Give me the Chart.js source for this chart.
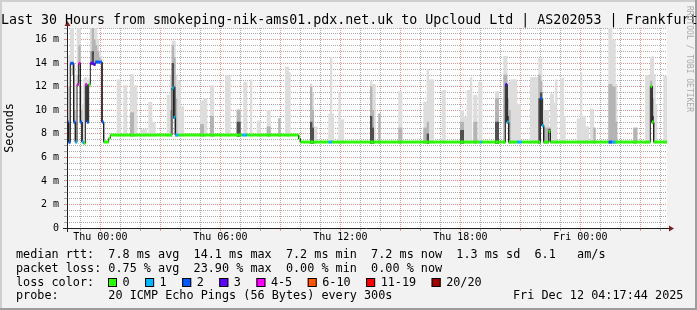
<!DOCTYPE html>
<html>
<head>
<meta charset="utf-8">
<script src="https://cdn.jsdelivr.net/npm/chart.js@4/dist/chart.umd.min.js"></script>
<style>
  html, body { margin: 0; padding: 0; background: #f2f2f2; }
  canvas { display: block; }
</style>
</head>
<body>
<canvas id="chart" width="697" height="310"></canvas>
<script>
// loss buckets (pings lost out of 20)
const lossLabels = ['0', '1', '2', '3', '4-5', '6-10', '11-19', '20/20'];
const lossColors = ['#26ff00', '#00b8ff', '#0059ff', '#5e00ff', '#ff00ff', '#ff5500', '#ff0000', '#a10000'];

// x axis: minutes since Thu 00:00, one sample every 5 minutes
const startMin = -100;
const endMin = 1700;
const stepMin = 5;
const tickHours = [0, 6, 12, 18, 24];
const tickLabels = ['Thu 00:00', 'Thu 06:00', 'Thu 12:00', 'Thu 18:00', 'Fri 00:00'];
const yMax = 17;

// median rtt runs: [start minute, ms, loss bucket], each lasts until the next run
const medianRuns = [
  [-100, 9.0, 2], [-95, 7.3, 2], [-90, 14.0, 2], [-80, 9.0, 2], [-75, 7.3, 1],
  [-70, 12.2, 4], [-65, 14.0, 4], [-60, 9.0, 2], [-55, 7.3, 1], [-50, 7.2, 0],
  [-45, 12.2, 4], [-40, 9.0, 2], [-35, 12.2, 0], [-30, 14.0, 3], [-20, 13.9, 3],
  [-15, 14.1, 2], [5, 9.0, 2], [10, 7.3, 0], [25, 7.6, 0], [30, 7.9, 0],
  [215, 11.9, 1], [220, 9.4, 1], [225, 7.9, 1], [235, 7.9, 0],
  [425, 7.9, 1], [440, 7.9, 0],
  [595, 7.6, 0], [600, 7.3, 0],
  [685, 7.3, 1], [695, 7.3, 0],
  [1140, 7.3, 1], [1145, 7.3, 0],
  [1215, 12.2, 3], [1220, 9.0, 1], [1225, 7.3, 0],
  [1250, 7.3, 1], [1265, 7.3, 0],
  [1320, 11.0, 2], [1325, 8.7, 1], [1330, 7.3, 0],
  [1345, 8.2, 0], [1350, 7.3, 0],
  [1525, 7.3, 2], [1535, 7.3, 1], [1545, 7.3, 0],
  [1650, 12.05, 0], [1655, 9.0, 0], [1660, 7.3, 0]
];

// smoke: [first minute, last minute, outer top ms, middle top ms, core top ms] (0 = none)
const smoke = [
  [-100, -100, 9.5, 0, 0], [-95, -95, 14.7, 12.0, 0], [-90, -90, 17, 14.0, 0],
  [-85, -85, 17, 13.0, 0], [-80, -80, 13.0, 10.0, 0], [-75, -75, 9.0, 0, 0],
  [-70, -70, 17, 13.0, 0], [-65, -65, 17, 15.5, 0], [-60, -60, 12.0, 10.0, 0],
  [-55, -55, 10.5, 0, 0], [-50, -50, 12.7, 0, 0], [-45, -45, 12.8, 12.2, 0],
  [-40, -40, 12.5, 11.0, 0], [-35, -35, 12.7, 12.0, 0], [-30, -30, 17, 15.0, 0],
  [-25, -25, 17, 17, 15.0], [-20, -20, 17, 16.0, 0], [-15, -15, 17, 15.5, 0],
  [-10, -10, 16.0, 15.0, 0], [-5, -5, 15.0, 14.5, 0], [0, 0, 14.6, 0, 0],
  [50, 55, 12.6, 0, 0], [70, 75, 12.1, 0, 0], [90, 95, 13.05, 9.8, 0],
  [100, 105, 12.1, 0, 0], [120, 135, 8.4, 0, 0], [145, 150, 10.7, 0, 0],
  [155, 160, 9.0, 0, 0], [200, 205, 11.3, 0, 0], [210, 210, 13.0, 10.0, 0],
  [215, 215, 15.9, 15.5, 14.0], [220, 220, 15.9, 14.5, 12.0], [225, 225, 13.0, 11.0, 0],
  [230, 235, 12.5, 0, 0], [240, 245, 10.3, 0, 0], [300, 305, 10.8, 8.8, 0],
  [310, 315, 11.0, 0, 0], [330, 335, 12.1, 9.5, 0], [375, 380, 12.96, 0, 0],
  [385, 385, 12.9, 0, 0], [410, 415, 10.1, 10.0, 9.0], [430, 435, 12.4, 0, 0],
  [450, 450, 12.6, 0, 0], [470, 475, 9.1, 0, 0], [500, 505, 10.0, 8.6, 0],
  [535, 535, 9.3, 9.3, 0], [555, 560, 13.67, 0, 0], [565, 565, 13.2, 0, 0],
  [630, 630, 12.25, 12.0, 9.0], [635, 635, 11.5, 10.0, 8.5], [640, 645, 8.6, 0, 0],
  [685, 685, 9.7, 0, 0], [690, 690, 14.5, 0, 0], [695, 695, 9.7, 0, 0],
  [715, 715, 11.5, 0, 0], [720, 725, 9.2, 0, 0], [810, 810, 12.5, 12.0, 9.5],
  [815, 815, 12.2, 10.0, 8.5], [820, 820, 12.2, 0, 0], [835, 835, 9.7, 9.7, 0],
  [895, 900, 11.6, 8.5, 0], [970, 975, 10.7, 8.5, 0], [980, 980, 13.5, 9.0, 8.0],
  [985, 995, 12.6, 0, 0], [1025, 1030, 11.7, 0, 0], [1080, 1085, 10.0, 9.0, 8.3],
  [1090, 1095, 9.4, 0, 0], [1100, 1105, 11.7, 0, 0], [1110, 1110, 12.8, 0, 0],
  [1120, 1125, 11.3, 9.0, 0], [1135, 1140, 12.4, 0, 0], [1185, 1190, 11.6, 11.0, 9.0],
  [1210, 1210, 14.6, 13.0, 0], [1215, 1215, 14.6, 13.0, 12.2], [1220, 1220, 12.4, 11.0, 9.5],
  [1225, 1225, 12.35, 10.0, 0], [1230, 1235, 12.6, 0, 0], [1240, 1245, 12.6, 0, 0],
  [1250, 1255, 10.5, 0, 0], [1290, 1295, 12.8, 0, 0], [1300, 1310, 12.8, 0, 0],
  [1315, 1315, 14.46, 13.0, 11.0], [1320, 1320, 14.4, 12.5, 11.5], [1325, 1325, 11.0, 9.0, 0],
  [1330, 1340, 10.0, 8.5, 0], [1345, 1345, 8.6, 8.5, 8.4], [1350, 1355, 11.4, 0, 0],
  [1360, 1360, 10.6, 0, 0], [1365, 1365, 12.6, 0, 0], [1380, 1385, 12.7, 0, 0],
  [1390, 1390, 9.5, 0, 0], [1430, 1435, 9.3, 0, 0], [1440, 1440, 13.2, 0, 0],
  [1445, 1450, 9.5, 0, 0], [1455, 1460, 8.6, 0, 0], [1470, 1475, 10.1, 0, 0],
  [1480, 1480, 8.5, 8.5, 0], [1525, 1530, 17, 12.2, 0], [1535, 1540, 16.0, 12.0, 0],
  [1545, 1545, 12.2, 9.0, 0], [1600, 1605, 8.5, 8.5, 0], [1635, 1640, 12.96, 0, 0],
  [1645, 1645, 12.9, 0, 0], [1650, 1650, 14.5, 12.5, 12.0], [1655, 1655, 14.6, 11.0, 9.5],
  [1660, 1660, 13.05, 0, 0], [1665, 1665, 10.5, 0, 0], [1690, 1695, 12.9, 0, 0]
];

const titleText = 'Last 30 Hours from smokeping-nik-ams01.pdx.net.uk to Upcloud Ltd | AS202053 | Frankfurt';
const statLines = [
  'median rtt:  7.8 ms avg  14.1 ms max  7.2 ms min  7.2 ms now  1.3 ms sd  6.1   am/s',
  'packet loss: 0.75 % avg  23.90 % max  0.00 % min  0.00 % now'
];
const probeText = 'probe:       20 ICMP Echo Pings (56 Bytes) every 300s';
const stampText = 'Fri Dec 12 04:17:44 2025';

const MONO = '"DejaVu Sans Mono", "Liberation Mono", monospace';
const gridMajor = 'rgba(222, 79, 79, 0.6)';
const gridMinor = 'rgba(143, 143, 143, 0.75)';

// build sample tables
const samples = [];
for (let m = startMin; m < endMin; m += stepMin) samples.push(m);

const medianAt = m => {
  let r = medianRuns[0];
  for (const run of medianRuns) if (run[0] <= m) r = run;
  return r;
};

const medPts = [];
const medLoss = [];
samples.forEach(m => {
  const run = medianAt(m);
  medPts.push({ x: m / 60, y: run[1] }, { x: (m + stepMin) / 60, y: run[1] });
  medLoss.push(run[2]);
});

const smokeLayer = col => samples.map(m => {
  const s = smoke.find(r => m >= r[0] && m <= r[1]);
  const top = s ? s[col] : 0;
  return { x: (m + stepMin / 2) / 60, y: top ? [medianAt(m)[1] - 0.1, top] : null };
});

const barOpts = {
  type: 'bar', grouped: false, barPercentage: 1, categoryPercentage: 1, borderWidth: 0
};

const frame = {
  id: 'frame',
  beforeDraw(chart) {
    const { ctx, chartArea: a } = chart;
    ctx.save();
    ctx.fillStyle = '#f2f2f2';
    ctx.fillRect(0, 0, 697, 310);
    ctx.fillStyle = '#cfcfcf';
    ctx.fillRect(0, 0, 697, 2);
    ctx.fillRect(0, 0, 2, 310);
    ctx.fillStyle = '#9e9e9e';
    ctx.fillRect(0, 308, 697, 2);
    ctx.fillRect(695, 0, 2, 310);
    ctx.fillStyle = '#ffffff';
    ctx.fillRect(a.left, a.top, a.right - a.left, a.bottom - a.top);
    ctx.restore();
  },
  afterDraw(chart) {
    const { ctx, chartArea: a } = chart;
    ctx.save();
    // axes and arrows
    ctx.strokeStyle = '#1f1f1f';
    ctx.lineWidth = 1;
    ctx.beginPath();
    ctx.moveTo(a.left - 4, a.bottom + 0.5);
    ctx.lineTo(a.right + 3, a.bottom + 0.5);
    ctx.moveTo(a.left + 0.5, a.bottom + 4);
    ctx.lineTo(a.left + 0.5, a.top - 4);
    ctx.stroke();
    ctx.fillStyle = '#801f1f';
    ctx.beginPath();
    ctx.moveTo(a.right + 2, a.bottom - 2.5);
    ctx.lineTo(a.right + 7, a.bottom + 0.5);
    ctx.lineTo(a.right + 2, a.bottom + 3.5);
    ctx.closePath();
    ctx.fill();
    ctx.beginPath();
    ctx.moveTo(a.left - 2.5, a.top - 2);
    ctx.lineTo(a.left + 0.5, a.top - 7);
    ctx.lineTo(a.left + 3.5, a.top - 2);
    ctx.closePath();
    ctx.fill();

    // title
    ctx.fillStyle = '#000';
    ctx.textAlign = 'left';
    ctx.textBaseline = 'alphabetic';
    ctx.font = '13.3px ' + MONO;
    ctx.fillText(titleText, 1, 23.5);

    // y axis title
    ctx.font = '11.8px ' + MONO;
    ctx.save();
    ctx.translate(10, (a.top + a.bottom) / 2);
    ctx.rotate(-Math.PI / 2);
    ctx.textAlign = 'center';
    ctx.textBaseline = 'middle';
    ctx.fillText('Seconds', 0, 0);
    ctx.restore();

    // legend
    ctx.fillText(statLines[0], 16, 258);
    ctx.fillText(statLines[1], 16, 271.7);
    ctx.fillText('loss color:', 16, 285.5);
    let bx = 108;
    lossLabels.forEach((lab, i) => {
      ctx.fillStyle = lossColors[i];
      ctx.fillRect(bx, 278, 9, 9);
      ctx.strokeStyle = '#000';
      ctx.strokeRect(bx + 0.5, 278.5, 8, 8);
      ctx.fillStyle = '#000';
      const lx = bx + 14.5;
      ctx.fillText(lab, lx, 285.5);
      bx = lx + ctx.measureText(lab).width + 15.5;
    });
    ctx.fillText(probeText, 16, 299.3);
    ctx.fillText(stampText, 513, 299.3);

    // watermark
    ctx.save();
    ctx.translate(689, 59);
    ctx.rotate(Math.PI / 2);
    ctx.font = '8px ' + MONO;
    ctx.fillStyle = '#aaaaaa';
    ctx.textAlign = 'center';
    ctx.textBaseline = 'middle';
    ctx.fillText('RRDTOOL / TOBI OETIKER', 0, 0);
    ctx.restore();
    ctx.restore();
  }
};

new Chart(document.getElementById('chart'), {
  type: 'bar',
  data: {
    datasets: [
      {
        // loss colour: only a short band on each sample, the dark line draws the steps
        type: 'line', data: medPts, borderWidth: 3, pointRadius: 0, order: 0,
        borderCapStyle: 'butt', fill: false,
        segment: {
          borderColor: c => (c.p0DataIndex % 2 === 0
            ? lossColors[medLoss[Math.floor(c.p0DataIndex / 2)]]
            : 'rgba(0,0,0,0)')
        }
      },
      { type: 'line', data: medPts, borderColor: '#202020', borderWidth: 1, pointRadius: 0, order: 1, fill: false },
      { ...barOpts, data: smokeLayer(4), backgroundColor: '#505050', order: 2 },
      { ...barOpts, data: smokeLayer(3), backgroundColor: '#b4b4b4', order: 3 },
      { ...barOpts, data: smokeLayer(2), backgroundColor: '#dddddd', order: 4 }
    ]
  },
  options: {
    responsive: false,
    devicePixelRatio: 1,
    animation: false,
    events: [],
    layout: { padding: { left: 0, right: 30, top: 28, bottom: 0 } },
    plugins: { legend: { display: false }, tooltip: { enabled: false } },
    scales: {
      x: {
        type: 'linear',
        min: startMin / 60,
        max: endMin / 60,
        offset: false,
        afterFit: s => { s.height = 82; },
        afterBuildTicks: s => {
          const t = [];
          for (let h = Math.ceil(startMin / 60); h <= endMin / 60; h++) t.push({ value: h });
          s.ticks = t;
        },
        ticks: {
          autoSkip: false, maxRotation: 0, padding: 0, color: '#000',
          font: { family: MONO, size: 10 },
          callback: v => {
            const i = tickHours.indexOf(v);
            return i < 0 ? '' : tickLabels[i];
          }
        },
        grid: {
          offset: false, tickLength: 3, lineWidth: 1,
          color: c => (c.tick.value % 3 === 0 ? gridMajor : gridMinor)
        },
        border: { display: false, dash: [1, 1] }
      },
      y: {
        min: 0,
        max: yMax,
        afterFit: s => { s.width = 67; },
        ticks: {
          stepSize: 0.5, autoSkip: false, padding: 5, color: '#000',
          font: { family: MONO, size: 10 },
          callback: v => (v % 2 ? '' : (v ? v + ' m' : '0'))
        },
        grid: {
          tickLength: 3, lineWidth: 1,
          color: c => (c.tick.value % 2 ? gridMinor : gridMajor)
        },
        border: { display: false, dash: [1, 1] }
      }
    }
  },
  plugins: [frame]
});
</script>
</body>
</html>
